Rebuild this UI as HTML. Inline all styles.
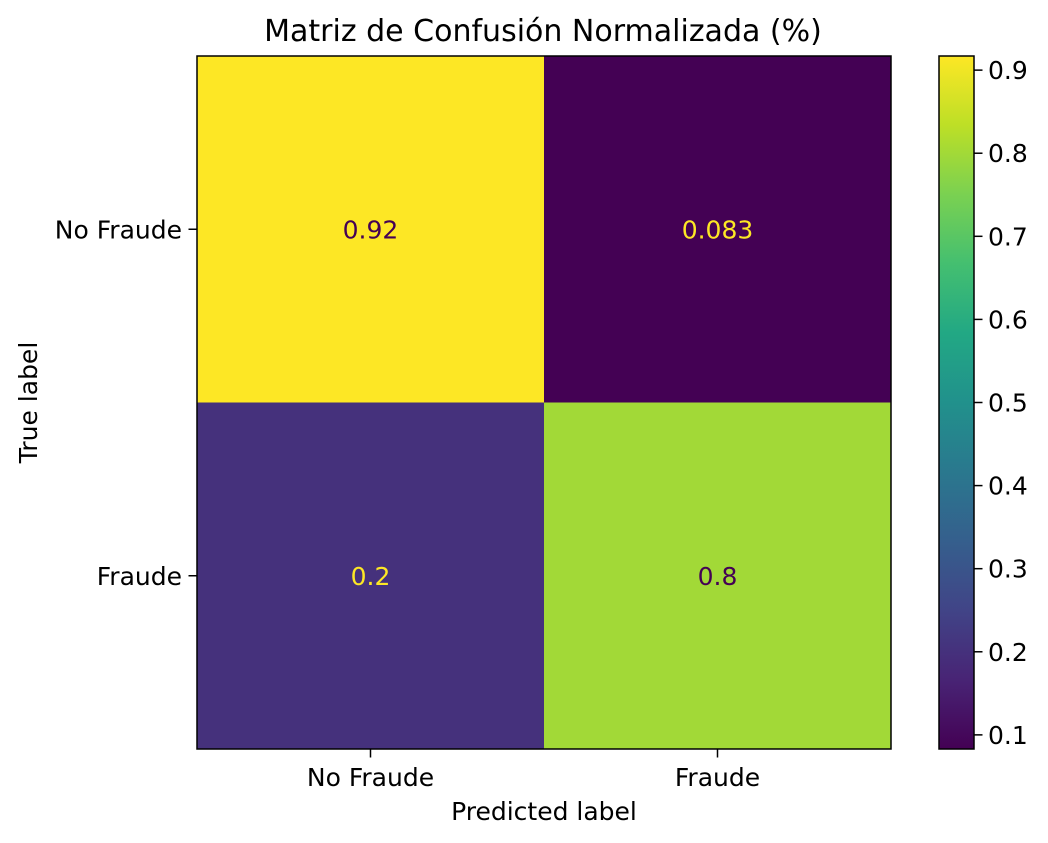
<!DOCTYPE html>
<html><head><meta charset="utf-8">
<style>
html,body{margin:0;padding:0;background:#fff;}
svg{display:block;font-family:"DejaVu Sans","Liberation Sans",sans-serif;}
</style></head>
<body>
<svg id="chart" width="1048" height="843" viewBox="0 0 1048 843">
<defs>
<linearGradient id="viridis" x1="0" y1="1" x2="0" y2="0">
<stop offset="0" stop-color="#440154"/>
<stop offset="0.1" stop-color="#482475"/>
<stop offset="0.2" stop-color="#414487"/>
<stop offset="0.3" stop-color="#355f8d"/>
<stop offset="0.4" stop-color="#2a788e"/>
<stop offset="0.5" stop-color="#21918c"/>
<stop offset="0.6" stop-color="#22a884"/>
<stop offset="0.7" stop-color="#44bf70"/>
<stop offset="0.8" stop-color="#7ad151"/>
<stop offset="0.9" stop-color="#bddf26"/>
<stop offset="1" stop-color="#fde725"/>
</linearGradient>
</defs>
<g id="cells"></g>
<g id="axes"></g>
</svg>
<script>
const categories = ["No Fraude", "Fraude"];
const rowNoFraude = [0.917, 0.083];
const rowFraude = [0.2, 0.8];
const valueLabels = [["0.92", "0.083"], ["0.2", "0.8"]];
const cbarTicks = [0.1, 0.2, 0.3, 0.4, 0.5, 0.6, 0.7, 0.8, 0.9];

const NS = "http://www.w3.org/2000/svg";
const cellsG = document.getElementById("cells");
const axesG = document.getElementById("axes");
const L = 197, T = 56, W = 694, H = 693;
const FS = 25, TK = 8.5;
const matrix = [rowNoFraude, rowFraude];
const allVals = matrix.flat();
const vmin = Math.min(...allVals), vmax = Math.max(...allVals);
const stops = ["#440154","#482475","#414487","#355f8d","#2a788e","#21918c","#22a884","#44bf70","#7ad151","#bddf26","#fde725"];
function hex(c){return [1,3,5].map(i=>parseInt(c.substr(i,2),16));}
function viridis(t){
  t=Math.max(0,Math.min(1,t));const p=t*10,i=Math.min(9,Math.floor(p)),f=p-i;
  const a=hex(stops[i]),b=hex(stops[i+1]);
  return "rgb("+a.map((v,k)=>Math.round(v+(b[k]-v)*f)).join(",")+")";
}
function norm(v){return (v-vmin)/(vmax-vmin);}
const n = categories.length, cw = W/n, ch = H/n;
function xC(j){return L+cw*(j+0.5);}
function yC(i){return T+ch*(i+0.5);}
function mk(tag, attrs, parent, text){
  const e=document.createElementNS(NS,tag);
  for(const k in attrs) e.setAttribute(k,attrs[k]);
  if(text!==undefined) e.textContent=text;
  parent.appendChild(e); return e;
}
for(let i=0;i<n;i++)for(let j=0;j<n;j++){
  const v=matrix[i][j];
  const r=mk("rect",{x:L+cw*j,y:T+ch*i,width:cw+0.5,height:ch+0.5,fill:viridis(norm(v))},cellsG);
  
  
  const t=mk("text",{x:xC(j),y:yC(i)+9,"text-anchor":"middle","font-size":FS,fill:norm(v)<0.5?"#fde725":"#440154"},cellsG,valueLabels[i][j]);
  
  
}
const frame=mk("rect",{x:L,y:T,width:W,height:H,fill:"none",stroke:"#000","stroke-width":1.5},axesG);


categories.forEach((c,j)=>{
  mk("line",{x1:xC(j),x2:xC(j),y1:T+H,y2:T+H+TK,stroke:"#000","stroke-width":1.5},axesG);
  const t=mk("text",{x:xC(j),y:T+H+37,"text-anchor":"middle","font-size":FS},axesG,c);
  
  
  mk("line",{x1:L-TK,x2:L,y1:yC(j),y2:yC(j),stroke:"#000","stroke-width":1.5},axesG);
  const u=mk("text",{x:L-15,y:yC(j)+9,"text-anchor":"end","font-size":FS},axesG,c);
  
  
});
const xt=mk("text",{x:L+W/2,y:820,"text-anchor":"middle","font-size":FS},axesG,"Predicted label");


const yt=mk("text",{x:37,y:T+H/2,"text-anchor":"middle","font-size":FS,transform:"rotate(-90 37 "+(T+H/2)+")"},axesG,"True label");


const ti=mk("text",{x:543,y:41,"text-anchor":"middle","font-size":30},axesG,"Matriz de Confusión Normalizada (%)");


const CX=939, CW=35;
const cb=mk("rect",{x:CX,y:T,width:CW,height:H,fill:"url(#viridis)",stroke:"#000","stroke-width":1.5},axesG);


function yCb(v){return T+H-norm(v)*H;}
cbarTicks.forEach(v=>{
  const y=yCb(v);
  mk("line",{x1:CX+CW,x2:CX+CW+TK,y1:y,y2:y,stroke:"#000","stroke-width":1.5},axesG);
  const t=mk("text",{x:CX+CW+14,y:y+9,"font-size":FS},axesG,v.toFixed(1));
  
  
});
</script>
</body></html>
